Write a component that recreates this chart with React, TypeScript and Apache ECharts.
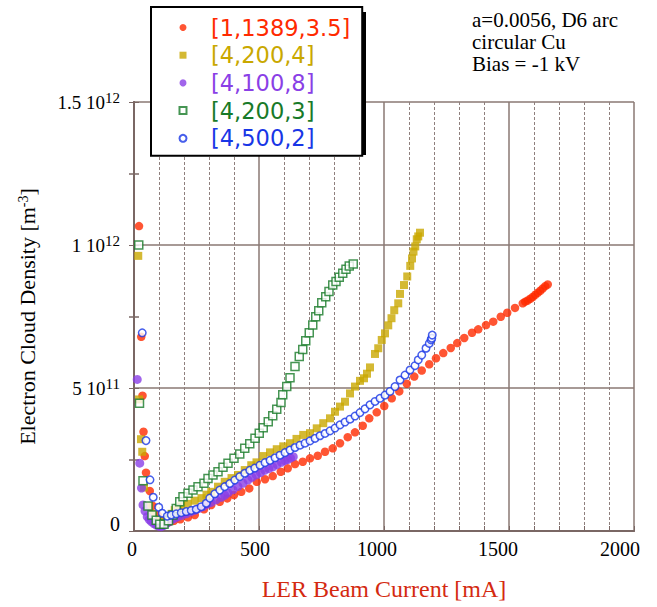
import React, { useEffect, useRef } from "react";
import * as echarts from "echarts";

// Units: x in mA, y in 1e11 m^-3
const seriesNames = ["[1,1389,3.5]", "[4,200,4]", "[4,100,8]", "[4,200,3]", "[4,500,2]"];
const seriesColors = ["#ff2a00", "#c9a800", "#8a3fe6", "#187a28", "#1836e6"];

const redX = [20, 29, 34, 38, 43, 48, 63, 75, 95, 118, 140, 160, 185, 216, 243, 280, 309, 343, 373, 400, 429, 461, 491, 524, 555, 587, 615, 644, 675, 704, 735, 764, 795, 824, 855, 884, 915, 941, 971, 1001, 1031, 1061, 1091, 1121, 1151, 1181, 1208, 1237, 1267, 1293, 1321, 1352, 1377, 1408, 1437, 1467, 1493, 1524, 1555, 1565, 1575, 1585, 1595, 1605, 1615, 1625, 1635, 1645, 1655];
const redY = [10.66, 6.79, 4.73, 3.47, 2.62, 2.04, 1.40, 0.88, 0.55, 0.38, 0.31, 0.36, 0.41, 0.48, 0.56, 0.76, 0.91, 1.02, 1.14, 1.26, 1.37, 1.49, 1.72, 1.81, 1.92, 2.07, 2.19, 2.34, 2.42, 2.54, 2.63, 2.77, 2.89, 3.07, 3.28, 3.45, 3.68, 3.94, 4.15, 4.37, 4.64, 4.88, 5.15, 5.40, 5.61, 5.83, 6.04, 6.22, 6.40, 6.57, 6.75, 6.93, 7.05, 7.20, 7.32, 7.49, 7.63, 7.80, 7.96, 8.02, 8.06, 8.12, 8.18, 8.26, 8.33, 8.40, 8.48, 8.56, 8.62];

const goldX = [17, 20, 28, 33, 40, 58, 75, 92, 110, 130, 150, 163, 176, 189, 215, 243, 270, 290, 309, 336, 363, 390, 416, 443, 469, 490, 517, 544, 571, 597, 624, 650, 677, 704, 731, 757, 784, 804, 824, 844, 864, 884, 904, 920, 932, 944, 964, 977, 991, 1004, 1017, 1030, 1041, 1057, 1064, 1080, 1093, 1105, 1112, 1118, 1125, 1131, 1137, 1144];
const goldY = [9.62, 4.60, 3.21, 2.77, 1.52, 0.86, 0.60, 0.40, 0.32, 0.45, 0.60, 0.73, 0.80, 0.87, 0.95, 1.06, 1.15, 1.27, 1.37, 1.55, 1.72, 1.85, 1.96, 2.13, 2.30, 2.40, 2.62, 2.75, 2.86, 2.96, 3.07, 3.22, 3.36, 3.42, 3.59, 3.77, 3.94, 4.17, 4.35, 4.52, 4.81, 5.05, 5.25, 5.34, 5.50, 5.72, 6.19, 6.39, 6.68, 6.91, 7.19, 7.44, 7.72, 7.96, 8.29, 8.60, 8.90, 9.27, 9.53, 9.77, 9.95, 10.20, 10.30, 10.43];

const purpleX = [13, 23, 30, 36, 44, 53, 61, 69, 79, 89, 99, 109, 119, 129, 140, 152, 164, 176, 192, 209, 226, 243, 260, 276, 292, 309, 329, 349, 363, 376, 396, 416, 436, 456, 472, 489, 506, 523, 539, 555, 572, 590, 603, 615, 626, 637];
const purpleY = [5.30, 2.37, 1.50, 0.91, 0.70, 0.50, 0.40, 0.33, 0.26, 0.21, 0.17, 0.15, 0.19, 0.25, 0.32, 0.40, 0.45, 0.50, 0.55, 0.60, 0.66, 0.72, 0.79, 0.85, 0.93, 1.00, 1.09, 1.18, 1.25, 1.33, 1.44, 1.56, 1.67, 1.78, 1.88, 1.96, 2.04, 2.12, 2.18, 2.24, 2.32, 2.40, 2.46, 2.50, 2.55, 2.60];

const greenX = [19, 22, 36, 56, 72, 89, 103, 120, 138, 156, 169, 183, 196, 216, 236, 256, 280, 296, 316, 336, 356, 376, 400, 423, 443, 463, 484, 501, 517, 537, 555, 571, 588, 595, 611, 624, 644, 661, 675, 687, 701, 715, 727, 739, 751, 767, 780, 795, 808, 821, 835, 848, 861, 877];
const greenY = [10.0, 4.47, 1.76, 0.87, 0.56, 0.38, 0.24, 0.24, 0.36, 0.56, 0.79, 1.02, 1.20, 1.32, 1.43, 1.55, 1.67, 1.84, 1.96, 2.07, 2.23, 2.37, 2.54, 2.69, 2.89, 3.05, 3.24, 3.42, 3.61, 3.82, 4.03, 4.26, 4.49, 4.76, 5.05, 5.36, 5.75, 6.10, 6.35, 6.65, 6.93, 7.20, 7.49, 7.70, 7.98, 8.19, 8.37, 8.60, 8.72, 8.87, 9.01, 9.15, 9.27, 9.34];

const blueX = [33, 48, 64, 77, 99, 113, 133, 149, 169, 189, 209, 229, 249, 269, 289, 303, 323, 343, 363, 383, 403, 423, 443, 463, 483, 504, 524, 544, 564, 584, 604, 624, 644, 664, 684, 704, 724, 744, 764, 784, 804, 824, 844, 864, 884, 904, 924, 944, 964, 984, 1004, 1024, 1044, 1064, 1084, 1104, 1124, 1137, 1151, 1168, 1181, 1188, 1191, 1193];
const blueY = [6.93, 3.16, 1.79, 1.18, 0.83, 0.62, 0.52, 0.56, 0.60, 0.64, 0.68, 0.72, 0.76, 0.85, 0.97, 1.15, 1.30, 1.43, 1.55, 1.66, 1.78, 1.90, 2.02, 2.12, 2.20, 2.30, 2.39, 2.47, 2.56, 2.65, 2.74, 2.83, 2.92, 3.00, 3.07, 3.15, 3.24, 3.33, 3.41, 3.50, 3.60, 3.71, 3.81, 3.91, 4.02, 4.14, 4.27, 4.41, 4.53, 4.64, 4.75, 4.88, 5.05, 5.28, 5.45, 5.63, 5.78, 5.98, 6.15, 6.39, 6.56, 6.68, 6.74, 6.85];

const yScale = 1e11;
const annotationLines = ["a=0.0056, D6 arc", "circular Cu", "Bias = -1 kV"];

const zip = (xs: number[], ys: number[]) => xs.map((x, i) => [x, ys[i] * yScale]);

const FRAME = "#7a6764";
const GRID = "#8a7873";
const SERIF = "'Liberation Serif', 'Times New Roman', serif";

export default function App() {
  const ref = useRef<HTMLDivElement>(null);
  useEffect(() => {
    if (!ref.current) return;
    const chart = echarts.init(ref.current, undefined, { renderer: "svg" });

    const xs = [redX, goldX, purpleX, greenX, blueX];
    const ys = [redY, goldY, purpleY, greenY, blueY];
    const symbols = ["circle", "rect", "circle", "rect", "circle"];
    const hollow = [false, false, false, true, true];
    const sizes = [8.5, 8, 9, 8, 7.5];

    const series = seriesNames.map((name, i) => ({
      name,
      type: "scatter",
      data: zip(xs[i], ys[i]),
      symbol: symbols[i],
      symbolSize: sizes[i],
      itemStyle: hollow[i]
        ? { color: "#ffffff", borderColor: seriesColors[i], borderWidth: 1.5 }
        : { color: seriesColors[i] },
      z: 2 + i,
    }));

    const xLabelShift: Record<string, string> = { "0": "a", "500": "b", "1000": "c", "1500": "d", "2000": "e" };

    const yLabel = (v: number) => {
      if (v === 0) return "{z|0}";
      const e = Math.floor(Math.log10(v) + 1e-9);
      const m = Math.round((v / Math.pow(10, e)) * 10) / 10;
      return `{b|${m} 10}{s|${e}}`;
    };

    chart.setOption({
      animation: false,
      backgroundColor: "#ffffff",
      grid: { left: 134, top: 102, width: 500, height: 429, show: false },
      xAxis: [
        {
          type: "value",
          min: 0,
          max: 2000,
          interval: 500,
          position: "bottom",
          name: "LER Beam Current [mA]",
          nameLocation: "middle",
          nameGap: 46,
          nameTextStyle: { fontFamily: SERIF, fontSize: 24, color: "#d42a10" },
          axisLine: { show: true, lineStyle: { color: FRAME, width: 2 } },
          axisTick: { show: true, inside: true, length: 5, lineStyle: { color: FRAME } },
          minorTick: { show: true, splitNumber: 5, length: 5, lineStyle: { color: FRAME, width: 1 } },
          splitLine: { show: true, lineStyle: { color: GRID, width: 1.5 } },
          minorSplitLine: { show: true, lineStyle: { color: "#8f807d", width: 1, type: [3, 2] } },
          axisLabel: {
            margin: 8,
            color: "#000",
            formatter: (v: number) => `{${xLabelShift[String(v)] || "a"}|${v}}`,
            rich: {
              a: { fontFamily: SERIF, fontSize: 20, color: "#000", padding: [0, 4, 0, 0] },
              b: { fontFamily: SERIF, fontSize: 20, color: "#000", padding: [0, 8, 0, 0] },
              c: { fontFamily: SERIF, fontSize: 20, color: "#000", padding: [0, 14, 0, 0] },
              d: { fontFamily: SERIF, fontSize: 20, color: "#000", padding: [0, 22, 0, 0] },
              e: { fontFamily: SERIF, fontSize: 20, color: "#000", padding: [0, 28, 0, 0] },
            },
          },
        },
        {
          type: "value",
          min: 0,
          max: 2000,
          interval: 500,
          position: "top",
          axisLine: { show: true, lineStyle: { color: FRAME, width: 2 } },
          axisTick: { show: false },
          axisLabel: { show: false },
          splitLine: { show: false },
        },
      ],
      yAxis: [
        {
          type: "value",
          min: 0,
          max: 1.5e12,
          interval: 5e11,
          position: "left",
          name: "Electron Cloud Density [m{sup|-3}]",
          nameLocation: "middle",
          nameGap: 96,
          nameRotate: 90,
          nameTextStyle: {
            fontFamily: SERIF,
            fontSize: 22,
            color: "#000",
            rich: {
              sup: { fontFamily: SERIF, fontSize: 14, color: "#000", verticalAlign: "top", lineHeight: 12 },
            },
          },
          axisLine: { show: true, lineStyle: { color: FRAME, width: 2 } },
          axisTick: { show: true, inside: true, length: 5, lineStyle: { color: FRAME } },
          minorTick: { show: true, splitNumber: 2, length: 5, lineStyle: { color: FRAME, width: 1.5 } },
          splitLine: { show: true, lineStyle: { color: GRID, width: 1.5 } },
          axisLabel: {
            margin: 14,
            formatter: yLabel,
            rich: {
              b: { fontFamily: SERIF, fontSize: 19, color: "#000", lineHeight: 24 },
              s: { fontFamily: SERIF, fontSize: 15, color: "#000", verticalAlign: "top", lineHeight: 12 },
              z: { fontFamily: SERIF, fontSize: 20, color: "#000", padding: [0, 0, 14, 0] },
            },
          },
        },
        {
          type: "value",
          min: 0,
          max: 1.5e12,
          interval: 5e11,
          position: "right",
          axisLine: { show: true, lineStyle: { color: FRAME, width: 2 } },
          axisTick: { show: true, inside: true, length: 5, lineStyle: { color: FRAME } },
          minorTick: { show: true, splitNumber: 2, length: 5, lineStyle: { color: FRAME, width: 1.5 } },
          axisLabel: { show: false },
          splitLine: { show: false },
        },
      ],
      legend: {
        orient: "vertical",
        left: 151,
        top: 7,
        padding: [9, 12, 6, 27.5],
        itemWidth: 7,
        itemHeight: 7,
        itemGap: 4.7,
        backgroundColor: "#ffffff",
        borderColor: "#000000",
        borderWidth: 2,
        borderRadius: 0,
        z: 10,
        data: seriesNames.map((name, i) => ({ name, textStyle: { color: seriesColors[i] } })),
        textStyle: {
          fontFamily: "'DejaVu Sans', Verdana, sans-serif",
          fontSize: 22.5,
          padding: [0, 0, 0, 19.5],
        },
      },
      graphic: [
        {
          type: "rect",
          z: 9,
          shape: { x: 156, y: 12, width: 210, height: 143 },
          style: { fill: "#000000" },
        },
        ...annotationLines.map((t, i) => ({
          type: "text",
          z: 11,
          x: 472,
          y: 20 + i * 22,
          style: {
            text: t,
            fontFamily: SERIF,
            fontSize: 21,
            fill: "#000",
            verticalAlign: "middle",
            align: "left",
          },
        })),
      ],
      series,
    });
    return () => chart.dispose();
  }, []);
  return <div ref={ref} style={{ position: "fixed", left: 0, top: 0, width: 657, height: 607 }} />;
}
